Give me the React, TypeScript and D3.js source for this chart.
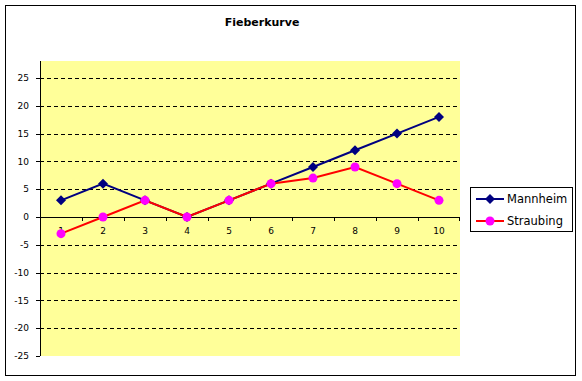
import React from "react";
import * as d3 from "d3";

const categories = ["1", "2", "3", "4", "5", "6", "7", "8", "9", "10"];
const mannheim = [3, 6, 3, 0, 3, 6, 9, 12, 15, 18];
const straubing = [-3, 0, 3, 0, 3, 6, 7, 9, 6, 3];
const yTicks = [-25, -20, -15, -10, -5, 0, 5, 10, 15, 20, 25];
const seriesNames = ["Mannheim", "Straubing"];
const title = "Fieberkurve";

export default function App() {
  const W = 582, H = 381;
  const plot = { left: 40, right: 460, top: 61, bottom: 356 };
  const x = d3.scaleBand<string>().domain(categories).range([plot.left, plot.right]);
  const y = d3.scaleLinear().domain([-25, 25]).range([356, 78]);
  const cx = (c: string) => (x(c) as number) + x.bandwidth() / 2;
  const line = d3.line<number>().x((_, i) => cx(categories[i])).y((d) => y(d));
  const font = "Tahoma, 'DejaVu Sans', Verdana, sans-serif";
  const diamond = (px: number, py: number, r = 5) =>
    `M${px},${py - r}L${px + r},${py}L${px},${py + r}L${px - r},${py}Z`;

  return (
    <svg width={W} height={H} style={{ position: "absolute", left: 0, top: 0 }} fontFamily={font}>
      <rect x={0} y={0} width={W} height={H} fill="#fff" />
      <rect x={5.5} y={5.5} width={570} height={370} fill="#fff" stroke="#000" strokeWidth={1} />
      <text x={262} y={26} textAnchor="middle" fontSize={11} fontWeight="600" fill="#000">{title}</text>
      <rect x={plot.left} y={plot.top} width={plot.right - plot.left} height={plot.bottom - plot.top} fill="#FFFF99" />
      {yTicks.filter((t) => t !== 0 && t !== -25).map((t) => (
        <line key={"g" + t} x1={plot.left} x2={plot.right} y1={Math.round(y(t)) + 0.5} y2={Math.round(y(t)) + 0.5}
          stroke="#000" strokeDasharray="4,3" strokeWidth={1} />
      ))}
      {yTicks.map((t) => (
        <g key={"t" + t}>
          <line x1={36} x2={plot.left} y1={Math.round(y(t)) + 0.5} y2={Math.round(y(t)) + 0.5} stroke="#000" />
          <text x={29} y={y(t)} dy="0.35em" textAnchor="end" fontSize={9} fill="#000">{t}</text>
        </g>
      ))}
      <line x1={plot.left + 0.5} x2={plot.left + 0.5} y1={plot.top} y2={plot.bottom} stroke="#000" />
      <line x1={plot.left} x2={plot.right} y1={Math.round(y(0)) + 0.5} y2={Math.round(y(0)) + 0.5} stroke="#000" />
      {categories.map((c, i) => (
        <g key={"x" + c}>
          {i > 0 && (
            <line x1={Math.round(x(c) as number) + 0.5} x2={Math.round(x(c) as number) + 0.5}
              y1={y(0)} y2={y(0) + 4} stroke="#000" />
          )}
          <text x={cx(c)} y={y(0) + 17} textAnchor="middle" fontSize={9} fill="#000">{c}</text>
        </g>
      ))}
      <line x1={plot.right - 0.5} x2={plot.right - 0.5} y1={y(0)} y2={y(0) + 4} stroke="#000" />
      <path d={line(mannheim) || ""} fill="none" stroke="#000080" strokeWidth={2} />
      {mannheim.map((v, i) => (
        <path key={"m" + i} d={diamond(cx(categories[i]), y(v))} fill="#000080" />
      ))}
      <path d={line(straubing) || ""} fill="none" stroke="#FF0000" strokeWidth={2} />
      {straubing.map((v, i) => (
        <circle key={"s" + i} cx={cx(categories[i])} cy={y(v)} r={4.5} fill="#FF00FF" />
      ))}
      <rect x={470.5} y={187.5} width={102} height={44} fill="#fff" stroke="#000" />
      {seriesNames.map((n, i) => {
        const ly = 199 + i * 22;
        return (
          <g key={n}>
            <line x1={476} x2={504} y1={ly} y2={ly} stroke={i === 0 ? "#000080" : "#FF0000"} strokeWidth={2} />
            {i === 0 ? (
              <path d={diamond(490, ly)} fill="#000080" />
            ) : (
              <circle cx={490} cy={ly} r={4.5} fill="#FF00FF" />
            )}
            <text x={507} y={ly} dy="0.35em" fontSize={11.5} fill="#000">{n}</text>
          </g>
        );
      })}
    </svg>
  );
}
